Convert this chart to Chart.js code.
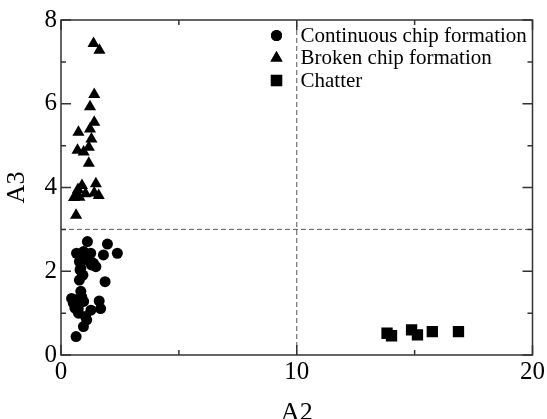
<!DOCTYPE html>
<html>
<head>
<meta charset="utf-8">
<script src="https://cdn.jsdelivr.net/npm/chart.js@4/dist/chart.umd.min.js"></script>
<style>
  html, body { margin: 0; padding: 0; background: #fff; }
  canvas { display: block; }
</style>
</head>
<body>
<canvas id="chipChart" width="547" height="419"></canvas>
<script>
// series labels
const seriesNames = ['Continuous chip formation', 'Broken chip formation', 'Chatter']

// continuous chip formation (circles)
const continuousA2 = [1.12, 1.97, 2.39, 0.66, 0.96, 1.26, 1.8, 0.78, 1.08, 1.38, 1.48, 0.84, 0.81, 0.93, 0.78, 1.87,
  0.45, 0.88, 0.64, 0.96, 1.62, 0.59, 0.74, 1.27, 1.68, 1.09, 0.95, 0.64, 0.89, 1.29, 0.52, 0.84, 1.04, 0.73]
const continuousA3 = [2.71, 2.65, 2.43, 2.43, 2.47, 2.43, 2.39, 2.23, 2.27, 2.19, 2.11, 2.07, 2.03, 1.91, 1.79, 1.75,
  1.35, 1.39, 1.32, 1.28, 1.29, 1.12, 1.0, 1.07, 1.11, 0.84, 0.68, 0.44, 2.35, 2.15, 1.24, 1.52, 0.92, 1.11]

// broken chip formation (triangles)
const brokenA2 = [1.38, 1.63, 1.41, 1.23, 1.41, 1.23, 0.74, 1.29, 1.18, 0.7, 0.96, 1.18, 1.48, 1.6, 0.89, 0.67,
  1.04, 0.55, 0.78, 0.64, 1.41, 0.72]
const brokenA3 = [7.44, 7.28, 6.22, 5.93, 5.56, 5.4, 5.32, 5.16, 4.96, 4.89, 4.85, 4.58, 4.09, 3.81, 4.05, 3.85,
  3.85, 3.76, 3.77, 3.34, 3.87, 3.95]

// chatter (squares)
const chatterA2 = [13.83, 14.02, 14.87, 15.12, 15.75, 16.86]
const chatterA3 = [0.52, 0.46, 0.6, 0.48, 0.56, 0.56]

// threshold lines
const a2Threshold = 10
const a3Threshold = 3

const FONT = "'Liberation Serif', 'Times New Roman', serif"

function toPoints(xs, ys) {
  return xs.map((x, i) => ({ x: x, y: ys[i] }))
}

// frame, inward ticks, legend
const frameAndLegend = {
  id: 'frameAndLegend',
  afterDraw(chart) {
    const ctx = chart.ctx
    const area = chart.chartArea
    const xs = chart.scales.x
    const ys = chart.scales.y
    ctx.save()
    ctx.strokeStyle = '#333'
    ctx.lineWidth = 1.5
    ctx.strokeRect(area.left, area.top, area.right - area.left, area.bottom - area.top)

    ctx.beginPath()
    for (let v = 0; v <= 20; v += 5) {
      const len = v % 10 === 0 ? 10 : 5
      const px = xs.getPixelForValue(v)
      ctx.moveTo(px, area.bottom); ctx.lineTo(px, area.bottom - len)
      ctx.moveTo(px, area.top); ctx.lineTo(px, area.top + len)
    }
    for (let v = 0; v <= 8; v += 1) {
      const len = v % 2 === 0 ? 10 : 5
      const py = ys.getPixelForValue(v)
      ctx.moveTo(area.left, py); ctx.lineTo(area.left + len, py)
      ctx.moveTo(area.right, py); ctx.lineTo(area.right - len, py)
    }
    ctx.stroke()

    // legend in the upper right
    const lx = area.right - 256
    const ly = area.top + 15.5
    chart.data.datasets.forEach((ds, i) => {
      if (!ds.showInLegend) return
      const y = ly + i * 22.5
      ctx.fillStyle = '#000'
      Chart.helpers.drawPoint(ctx, {
        pointStyle: ds.pointStyle,
        radius: ds.pointRadius,
        borderWidth: 0,
        rotation: 0,
      }, lx, y)
      ctx.fill()
      ctx.font = '21px ' + FONT
      ctx.textBaseline = 'middle'
      ctx.textAlign = 'left'
      ctx.fillText(ds.label, lx + 24, y + 0.5)
    })
    ctx.restore()
  },
}

const pointDefaults = {
  type: 'scatter',
  backgroundColor: '#000',
  borderColor: '#000',
  borderWidth: 0,
  showInLegend: true,
}

new Chart(document.getElementById('chipChart').getContext('2d'), {
  data: {
    datasets: [
      {
        ...pointDefaults,
        label: seriesNames[0],
        data: toPoints(continuousA2, continuousA3),
        pointStyle: 'circle',
        pointRadius: 5.5,
      },
      {
        ...pointDefaults,
        label: seriesNames[1],
        data: toPoints(brokenA2, brokenA3),
        pointStyle: 'triangle',
        pointRadius: 7,
      },
      {
        ...pointDefaults,
        label: seriesNames[2],
        data: toPoints(chatterA2, chatterA3),
        pointStyle: 'rect',
        pointRadius: 8,
      },
      {
        type: 'line',
        label: 'A2 threshold',
        data: [{ x: a2Threshold, y: 0 }, { x: a2Threshold, y: 8 }],
        borderColor: '#555',
        borderWidth: 1,
        borderDash: [5, 3],
        pointRadius: 0,
        showInLegend: false,
      },
      {
        type: 'line',
        label: 'A3 threshold',
        data: [{ x: 0, y: a3Threshold }, { x: 20, y: a3Threshold }],
        borderColor: '#555',
        borderWidth: 1,
        borderDash: [5, 3],
        pointRadius: 0,
        showInLegend: false,
      },
    ],
  },
  options: {
    responsive: false,
    animation: false,
    devicePixelRatio: 1,
    layout: { padding: { top: 20, right: 14.5, left: 0, bottom: 0 } },
    plugins: {
      legend: { display: false },
      tooltip: { enabled: false },
    },
    scales: {
      x: {
        type: 'linear',
        min: 0,
        max: 20,
        grid: { display: false, drawTicks: false },
        border: { display: false },
        ticks: { stepSize: 10, color: '#000', padding: 2, font: { family: FONT, size: 25 } },
        title: { display: true, text: 'A2', color: '#000', padding: { top: 0, bottom: -10 }, font: { family: FONT, size: 26 } },
        afterFit(scale) { scale.height = 64 },
      },
      y: {
        type: 'linear',
        min: 0,
        max: 8,
        grid: { display: false, drawTicks: false },
        border: { display: false },
        ticks: { stepSize: 2, color: '#000', padding: 4, font: { family: FONT, size: 25 } },
        title: { display: true, text: 'A3', color: '#000', padding: { top: 2, bottom: 0 }, font: { family: FONT, size: 26 } },
        afterFit(scale) { scale.width = 61 },
      },
    },
  },
  plugins: [frameAndLegend],
})
</script>
</body>
</html>
